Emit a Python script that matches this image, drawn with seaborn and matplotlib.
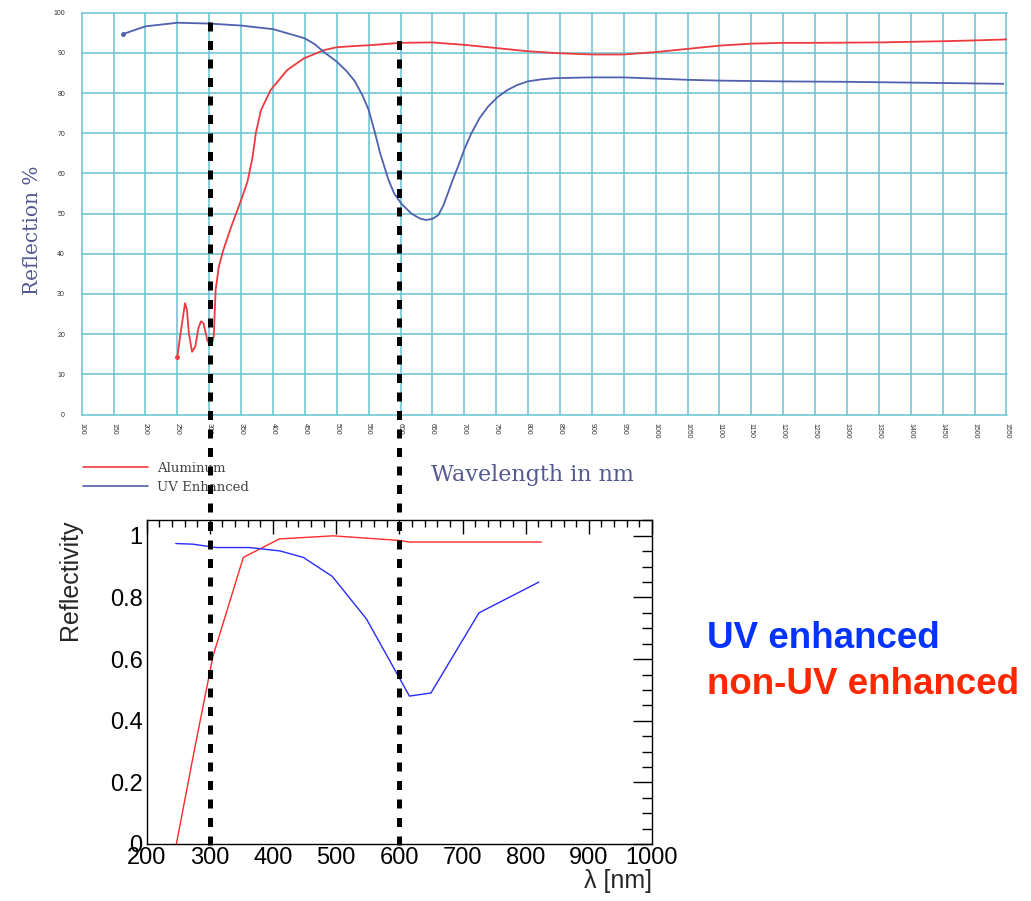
import numpy as np
import pandas as pd
import matplotlib
matplotlib.use("Agg")
import matplotlib.pyplot as plt
import seaborn as sns
from matplotlib.lines import Line2D
from matplotlib.ticker import MultipleLocator, FuncFormatter

# ---------------- data: top chart (Reflection % vs wavelength) ----------------
alu_wl = [250, 255, 262, 265, 268, 273, 278, 283, 287, 291, 294, 297, 301, 304, 307,
          309, 310, 315, 322, 335, 350, 360, 368, 373, 381, 396, 422, 448, 480, 500,
          527, 550, 600, 650, 700, 750, 800, 850, 900, 950, 1000, 1050, 1100, 1150,
          1200, 1250, 1300, 1350, 1400, 1450, 1500, 1550]
alu_refl = [14.4, 20.2, 27.7, 26.0, 20.2, 15.6, 16.9, 21.5, 23.2, 22.7, 20.5, 18.5, 17.3,
            17.5, 19.4, 27.0, 31.0, 36.8, 40.9, 47.0, 53.4, 58.0, 64.1, 70.0, 75.7, 80.7,
            85.7, 88.6, 90.7, 91.4, 91.7, 91.9, 92.5, 92.6, 92.0, 91.2, 90.4, 89.9, 89.6,
            89.6, 90.2, 91.0, 91.8, 92.3, 92.5, 92.5, 92.55, 92.6, 92.75, 92.9, 93.1, 93.35]

uvenh_wl = [165, 200, 250, 300, 350, 400, 433, 450, 465, 480, 500, 515, 528, 540, 550,
            560, 568, 581, 590, 601, 617, 630, 640, 650, 659, 667, 674, 682, 690, 700,
            711, 724, 737, 752, 768, 783, 799, 820, 841, 867, 900, 950, 1000, 1050, 1100,
            1150, 1200, 1250, 1300, 1350, 1400, 1450, 1500, 1545]
uvenh_refl = [94.7, 96.6, 97.5, 97.3, 96.8, 95.9, 94.4, 93.6, 92.2, 90.2, 87.8, 85.5, 83.0,
              79.5, 75.8, 70.0, 65.0, 58.4, 55.0, 52.5, 50.0, 48.8, 48.4, 48.7, 49.6, 52.0,
              55.0, 58.5, 61.7, 66.0, 70.0, 73.8, 76.6, 79.0, 80.8, 82.0, 82.9, 83.4, 83.7,
              83.8, 83.9, 83.9, 83.6, 83.3, 83.1, 83.0, 82.9, 82.85, 82.8, 82.7, 82.6, 82.5,
              82.4, 82.3]

top_xticks = list(range(100, 1551, 50))
top_yticks = list(range(0, 101, 10))

# ---------------- data: bottom chart (Reflectivity vs lambda) ----------------
nonuv_lambda = [247, 275, 305, 353, 410, 495, 600, 615, 825]
nonuv_refl = [0.0, 0.30, 0.61, 0.93, 0.99, 1.0, 0.985, 0.98, 0.98]
uv_lambda = [246, 273, 310, 363, 411, 448, 494, 548, 616, 650, 726, 821]
uv_refl = [0.975, 0.973, 0.962, 0.962, 0.951, 0.93, 0.868, 0.73, 0.48, 0.49, 0.75, 0.85]

marker_lambdas = [300, 600]

# ---------------- figure ----------------
sns.set_style("white")
plt.rcParams['font.family'] = ['Liberation Sans', 'DejaVu Sans']

W, H = 1031, 901
fig = plt.figure(figsize=(W / 100, H / 100), dpi=100)


def box(l, t, r, b):
    return [l / W, (H - b) / H, (r - l) / W, (b - t) / H]


grid_c = "#72c6d5"
serif_c = "#545a90"
alu_c = "#ec3b3e"
uve_c = "#5060ae"

# ---- top axes ----
ax1 = fig.add_axes(box(81.7, 12.7, 1006.5, 414.5))
top_df = pd.concat([
    pd.DataFrame({"wl": alu_wl, "refl": alu_refl, "s": "Aluminum"}),
    pd.DataFrame({"wl": uvenh_wl, "refl": uvenh_refl, "s": "UV Enhanced"}),
])
sns.lineplot(data=top_df, x="wl", y="refl", hue="s", estimator=None, sort=False,
             palette={"Aluminum": alu_c, "UV Enhanced": uve_c},
             linewidth=1.3, ax=ax1, zorder=3)
ax1.plot([alu_wl[0]], [alu_refl[0]], "o", ms=2.5, color=alu_c, zorder=4)
ax1.plot([uvenh_wl[0]], [uvenh_refl[0]], "o", ms=2.5, color=uve_c, zorder=4)
ax1.set_xlim(100, 1550)
ax1.set_ylim(0, 100)
ax1.set_xticks(top_xticks)
ax1.set_yticks(top_yticks)
ax1.set_xticklabels([str(v) for v in top_xticks], rotation=270, fontsize=5, color="#333333")
ax1.set_yticklabels([str(v) for v in top_yticks], fontsize=5, color="#333333")
ax1.tick_params(axis="x", length=0, pad=6)
ax1.tick_params(axis="y", length=3, color=grid_c, width=1, pad=9)
for s in ax1.spines.values():
    s.set_visible(False)
for v in top_xticks:
    ax1.axvline(v, color=grid_c, lw=1.2, zorder=1, clip_on=False)
for v in top_yticks:
    ax1.axhline(v, color=grid_c, lw=1.2, zorder=1, clip_on=False)
ax1.set_xlabel("")
ax1.set_ylabel("")
leg = ax1.legend(handles=[Line2D([], [], color=alu_c, lw=1.2),
                          Line2D([], [], color=uve_c, lw=1.2)],
                 labels=["Aluminum", "UV Enhanced"],
                 loc="upper left", bbox_to_anchor=(71 / W, 1 - 450 / H),
                 bbox_transform=fig.transFigure, frameon=False,
                 handlelength=4.9, handletextpad=0.7, labelspacing=0.45,
                 prop={"family": "DejaVu Serif", "size": 9.5})
for t in leg.get_texts():
    t.set_color("#444444")

fig.text(33 / W, 1 - 230 / H, "Reflection %", rotation=90, ha="center", va="center",
         family="DejaVu Serif", fontsize=14.5, color=serif_c)
fig.text(532 / W, 1 - 475 / H, "Wavelength in nm", ha="center", va="center",
         family="DejaVu Serif", fontsize=16, color=serif_c)

# ---- bottom axes ----
ax2 = fig.add_axes(box(146.7, 519.5, 652, 844))
bot_df = pd.concat([
    pd.DataFrame({"lam": nonuv_lambda, "r": nonuv_refl, "s": "non-UV enhanced"}),
    pd.DataFrame({"lam": uv_lambda, "r": uv_refl, "s": "UV enhanced"}),
])
sns.lineplot(data=bot_df, x="lam", y="r", hue="s", estimator=None, sort=False,
             palette={"non-UV enhanced": "#ff2a2a", "UV enhanced": "#2a2aff"},
             linewidth=1.0, ax=ax2, legend=False)
ax2.set_xlim(200, 1000)
ax2.set_ylim(0, 1.053)
ax2.xaxis.set_major_locator(MultipleLocator(100))
ax2.xaxis.set_minor_locator(MultipleLocator(20))
ax2.yaxis.set_major_locator(MultipleLocator(0.2))
ax2.yaxis.set_minor_locator(MultipleLocator(0.05))
ax2.yaxis.set_major_formatter(FuncFormatter(
    lambda v, p: "0" if abs(v) < 1e-9 else ("1" if abs(v - 1) < 1e-9 else f"{v:.1f}")))
ax2.tick_params(axis="both", which="both", direction="in", top=True, right=True,
                labelsize=17, colors="black")
ax2.tick_params(axis="x", which="major", length=10, width=1, pad=2)
ax2.tick_params(axis="x", which="minor", length=5, width=1)
ax2.tick_params(axis="y", which="major", length=14, width=1, pad=3)
ax2.tick_params(axis="y", which="minor", length=7, width=1)
for s in ax2.spines.values():
    s.set_visible(True)
    s.set_color("black")
    s.set_linewidth(1)
ax2.set_xlabel("λ [nm]", fontsize=18, loc="right", labelpad=0)
ax2.set_ylabel("Reflectivity", fontsize=18, loc="top", labelpad=20)

# big annotation texts
fig.text(707 / W, 1 - 638 / H, "UV enhanced", ha="left", va="center",
         fontsize=26.5, fontweight="bold", color="#0433ff")
fig.text(707 / W, 1 - 685 / H, "non-UV enhanced", ha="left", va="center",
         fontsize=26.5, fontweight="bold", color="#ff2600")

# dashed vertical markers spanning both charts, positioned by the bottom axis scale
fig.canvas.draw()
inv = fig.transFigure.inverted()
tops = [22, 35]
for lam, tpx in zip(marker_lambdas, tops):
    xd, _ = ax2.transData.transform((lam, 0))
    xf, _ = inv.transform((xd, 0))
    fig.add_artist(Line2D([xf, xf], [1 - 845 / H, 1 - tpx / H], transform=fig.transFigure,
                          color="black", lw=3.6, linestyle=(0, (1.8, 1.9)),
                          dash_capstyle="butt", zorder=10))

fig.savefig("out.png", dpi=100)
